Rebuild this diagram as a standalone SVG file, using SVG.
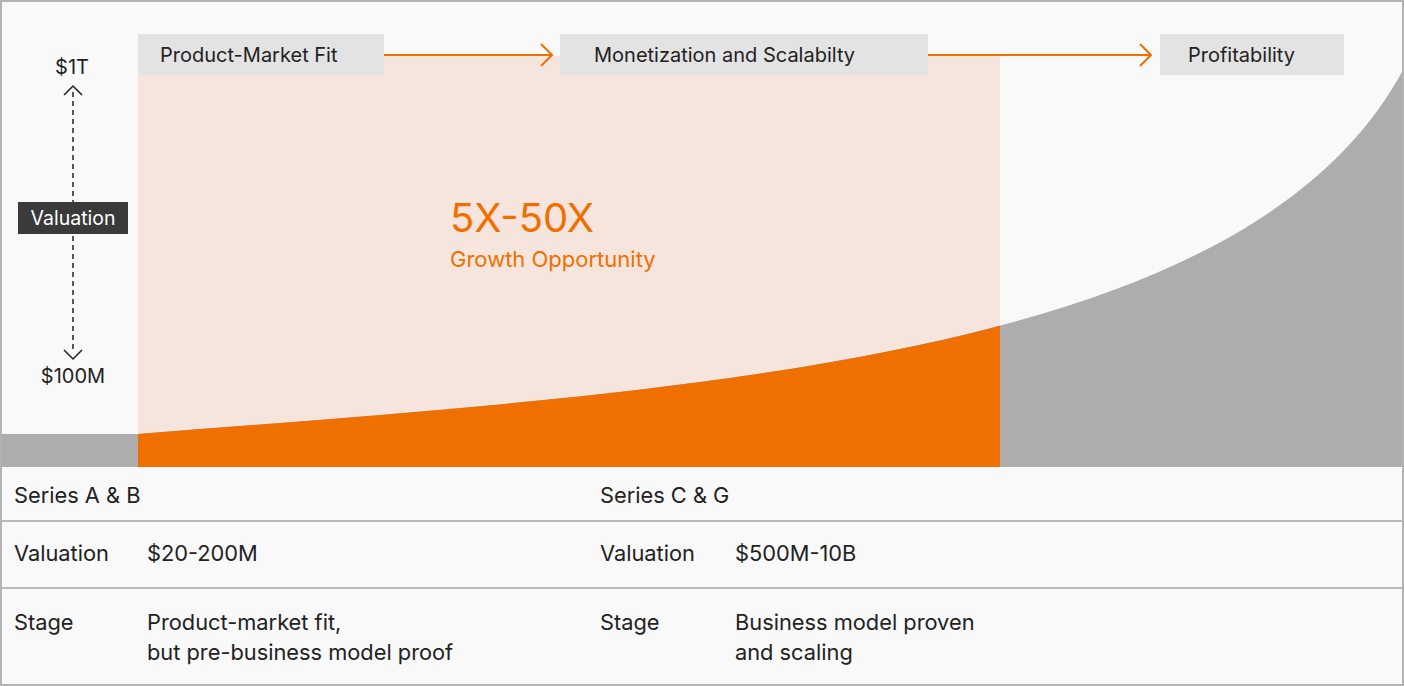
<svg xmlns="http://www.w3.org/2000/svg" width="1404" height="686" viewBox="0 0 1404 686">
<style>
text{font-family:Inter,"Noto Sans","Liberation Sans",sans-serif;fill:#222}
.box{fill:#e3e3e3}
.lbl{font-size:20px}
.tbl{font-size:21.8px}
.conn{stroke:#ef6f00;stroke-width:2;fill:none}
.sep{stroke:#b8b8b8;stroke-width:2}
</style>
<defs>
<clipPath id="lc"><rect x="138" y="0" width="862" height="467"/></clipPath>
</defs>
<rect x="0" y="0" width="1404" height="686" fill="#f9f9f9"/>
<rect x="138" y="56" width="862" height="411" fill="#f6e5dc"/>
<path id="curveGray" d="M0 434 L138 434 C700 390 1250 360 1404 68 L1404 467 L0 467 Z" fill="#adadad"/>
<path id="curveOrange" clip-path="url(#lc)" d="M138 434 C700 390 1250 360 1404 68 L1404 467 L138 467 Z" fill="#ef6f00"/>
<g id="connectors">
<path class="conn" d="M384 55 H552 M541 44 L552 55 L541 66"/>
<path class="conn" d="M928 55 H1151 M1140 44 L1151 55 L1140 66"/>
<path d="M73 92 V352" stroke="#222" stroke-width="1.5" stroke-dasharray="5 4" fill="none"/>
<path d="M64 95 L73 86 L82 95" stroke="#222" stroke-width="1.5" fill="none"/>
<path d="M64 350 L73 359 L82 350" stroke="#222" stroke-width="1.5" fill="none"/>
</g>
<g id="node-pmf"><rect class="box" x="138" y="34" width="246" height="41"/><text class="lbl" x="160" y="62">Product-Market Fit</text></g>
<g id="node-monetization"><rect class="box" x="560" y="34" width="368" height="41"/><text class="lbl" x="594" y="62">Monetization and Scalabilty</text></g>
<g id="node-profitability"><rect class="box" x="1160" y="34" width="184" height="41"/><text class="lbl" x="1188" y="62">Profitability</text></g>
<g id="axis">
<text x="72" y="74" text-anchor="middle" style="font-size:20px">$1T</text>
<text x="73" y="383" text-anchor="middle" style="font-size:20px">$100M</text>
<rect x="18" y="202" width="110" height="32" fill="#3a3a3a"/>
<text x="73" y="225" text-anchor="middle" style="font-size:19.5px;fill:#fff">Valuation</text>
</g>
<g id="growth">
<text x="450" y="232" style="font-size:40px;fill:#ef6f00">5X-50X</text>
<text x="450" y="267" style="font-size:22px;fill:#ef6f00">Growth Opportunity</text>
</g>
<g id="table">
<line class="sep" x1="0" y1="521" x2="1404" y2="521"/>
<line class="sep" x1="0" y1="588" x2="1404" y2="588"/>
<text class="tbl" x="14" y="503">Series A &amp; B</text>
<text class="tbl" x="600" y="503">Series C &amp; G</text>
<text class="tbl" x="14" y="561">Valuation</text>
<text class="tbl" x="147" y="561">$20-200M</text>
<text class="tbl" x="600" y="561">Valuation</text>
<text class="tbl" x="735" y="561">$500M-10B</text>
<text class="tbl" x="14" y="630">Stage</text>
<text class="tbl" x="147" y="630">Product-market fit,</text>
<text class="tbl" x="147" y="660">but pre-business model proof</text>
<text class="tbl" x="600" y="630">Stage</text>
<text class="tbl" x="735" y="630">Business model proven</text>
<text class="tbl" x="735" y="660">and scaling</text>
</g>
<rect x="1" y="1" width="1402" height="684" fill="none" stroke="#b3b3b3" stroke-width="2"/>
</svg>
